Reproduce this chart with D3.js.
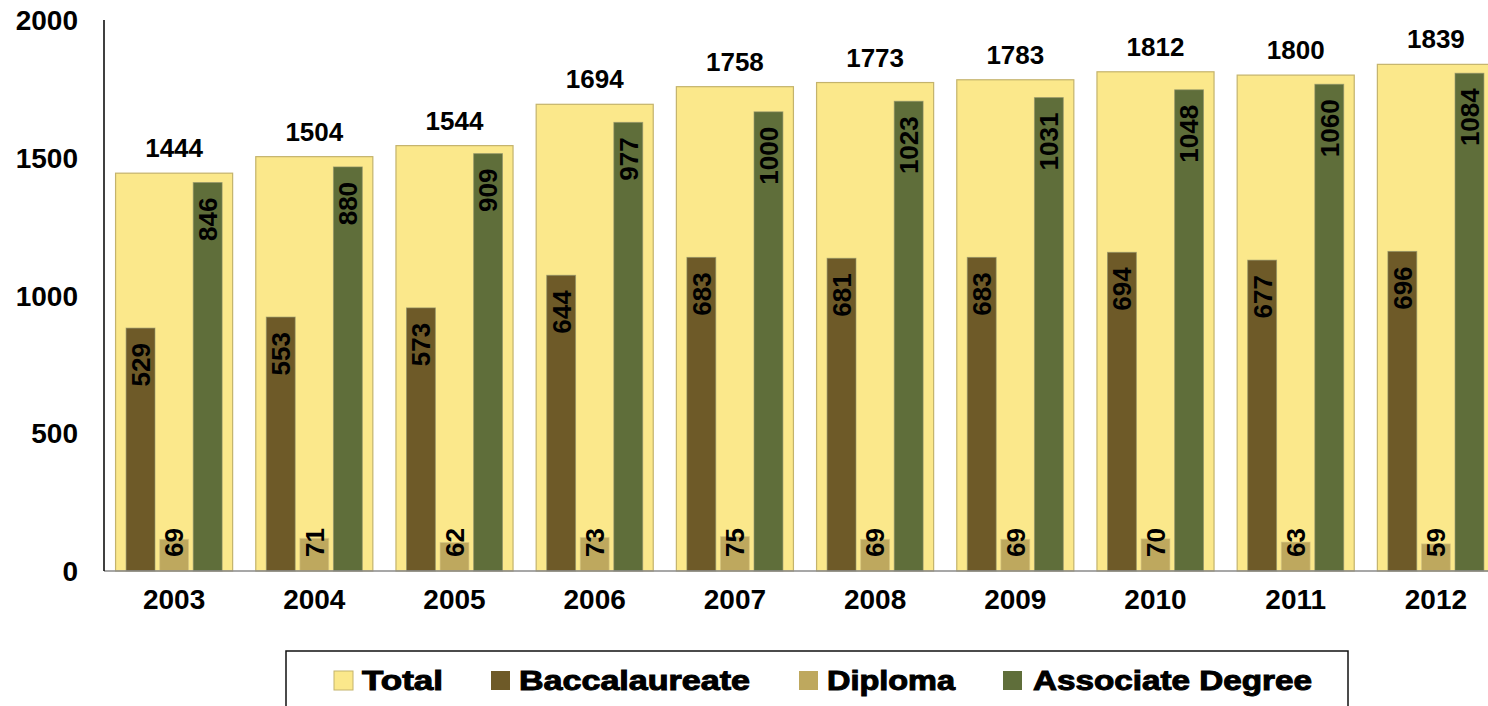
<!DOCTYPE html>
<html>
<head>
<meta charset="utf-8">
<script src="https://cdn.jsdelivr.net/npm/d3@7"></script>
<style>
  body { margin: 0; background: #fff; }
  text { font-family: "Liberation Sans", Arial, sans-serif; font-weight: bold; }
</style>
</head>
<body>
<svg id="chart"></svg>
<script>
var years = ["2003","2004","2005","2006","2007","2008","2009","2010","2011","2012"];
var total = [1444,1504,1544,1694,1758,1773,1783,1812,1800,1839];
var bacc = [529,553,573,644,683,681,683,694,677,696];
var diploma = [69,71,62,73,75,69,69,70,63,59];
var assoc = [846,880,909,977,1000,1023,1031,1048,1060,1084];
var seriesNames = ["Baccalaureate","Diploma","Associate Degree"];
var yTicks = [0,500,1000,1500,2000];

var width = 1488;
var height = 706;

var svg = d3.select("#chart")
  .attr("width", width)
  .attr("height", height);

var x = d3.scaleBand()
  .domain(years)
  .range([104, 104 + 140.2 * years.length]);

var y = d3.scaleLinear().domain([0, 2000]).range([571, 20]);
// the three detail series sit on a hidden secondary axis
var y2 = d3.scaleLinear().domain([0, 1200]).range([571, 20]);

var inner = d3.scaleBand()
  .domain(seriesNames)
  .range([-48, 48])
  .paddingInner(0.14);

var colors = {
  "Total": "#FBE88B",
  "Baccalaureate": "#6E5A28",
  "Diploma": "#BEA85E",
  "Associate Degree": "#5F6E3A"
};

var rows = years.map(function(yr, i) {
  return {year: yr, total: total[i], vals: [bacc[i], diploma[i], assoc[i]]};
});

var totalW = x.bandwidth() * 0.835;

// total bars
svg.selectAll("rect.total")
  .data(rows)
  .enter()
  .append("rect")
  .attr("class", "total")
  .attr("x", function(d) { return x(d.year) + x.bandwidth() / 2 - totalW / 2; })
  .attr("y", function(d) { return y(d.total); })
  .attr("width", totalW)
  .attr("height", function(d) { return y(0) - y(d.total); })
  .attr("fill", colors["Total"])
  .attr("stroke", "#C4B36C")
  .attr("stroke-width", 1.2);

svg.selectAll("text.totlab")
  .data(rows)
  .enter()
  .append("text")
  .attr("class", "totlab")
  .attr("x", function(d) { return x(d.year) + x.bandwidth() / 2; })
  .attr("y", function(d) { return y(d.total) - 16; })
  .attr("text-anchor", "middle")
  .attr("font-size", 26)
  .text(function(d) { return d.total; });

// detail bars
var flat = [];
rows.forEach(function(r) {
  seriesNames.forEach(function(s, j) {
    flat.push({year: r.year, series: s, value: r.vals[j]});
  });
});

svg.selectAll("rect.sub")
  .data(flat)
  .enter()
  .append("rect")
  .attr("class", "sub")
  .attr("x", function(d) { return x(d.year) + x.bandwidth() / 2 + inner(d.series); })
  .attr("y", function(d) { return y2(d.value); })
  .attr("width", inner.bandwidth())
  .attr("height", function(d) { return y2(0) - y2(d.value); })
  .attr("fill", function(d) { return colors[d.series]; })
  .attr("stroke", function(d) { return d.series == "Diploma" ? "#D6C586" : "#8C8F6A"; })
  .attr("stroke-opacity", 0.6)
  .attr("stroke-width", 1);

svg.selectAll("text.sublab")
  .data(flat)
  .enter()
  .append("text")
  .attr("class", "sublab")
  .attr("transform", function(d) {
    var cx = x(d.year) + x.bandwidth() / 2 + inner(d.series) + inner.bandwidth() / 2;
    var cy = Math.min(y2(d.value) + 15, y2(0) - 43);
    return "translate(" + cx + "," + cy + ") rotate(-90)";
  })
  .attr("dy", "0.36em")
  .attr("text-anchor", "end")
  .attr("font-size", 26)
  .text(function(d) { return d.value; });

// axes
svg.append("line")
  .attr("x1", 104).attr("x2", width)
  .attr("y1", y(0)).attr("y2", y(0))
  .attr("stroke", "#8a8a8a")
  .attr("stroke-width", 1.5);

svg.append("line")
  .attr("x1", 104).attr("x2", 104)
  .attr("y1", y(2000)).attr("y2", y(0))
  .attr("stroke", "#000")
  .attr("stroke-width", 1.5);

svg.selectAll("text.ytick")
  .data(yTicks)
  .enter()
  .append("text")
  .attr("class", "ytick")
  .attr("x", 78)
  .attr("y", function(d) { return y(d); })
  .attr("dy", "0.36em")
  .attr("text-anchor", "end")
  .attr("font-size", 28)
  .text(function(d) { return d; });

svg.selectAll("text.xtick")
  .data(years)
  .enter()
  .append("text")
  .attr("class", "xtick")
  .attr("x", function(d) { return x(d) + x.bandwidth() / 2; })
  .attr("y", 609)
  .attr("text-anchor", "middle")
  .attr("font-size", 28)
  .text(function(d) { return d; });

// legend
svg.append("rect")
  .attr("x", 286).attr("y", 651)
  .attr("width", 1062).attr("height", 80)
  .attr("fill", "none")
  .attr("stroke", "#111")
  .attr("stroke-width", 1.5);

var legendItems = [
  {name: "Total", sx: 334, tx: 362, tw: 81},
  {name: "Baccalaureate", sx: 491, tx: 519, tw: 231},
  {name: "Diploma", sx: 799, tx: 827, tw: 128},
  {name: "Associate Degree", sx: 1003, tx: 1033, tw: 279}
];

var lg = svg.selectAll("g.leg")
  .data(legendItems)
  .enter()
  .append("g")
  .attr("class", "leg");

lg.append("rect")
  .attr("x", function(d) { return d.sx; })
  .attr("y", 671)
  .attr("width", 19)
  .attr("height", 19)
  .attr("fill", function(d) { return colors[d.name]; })
  .attr("stroke", function(d) { return d.name == "Total" ? "#C4B36C" : "none"; })
  .attr("stroke-width", 1);

lg.append("text")
  .attr("x", function(d) { return d.tx; })
  .attr("y", 690)
  .attr("font-size", 27)
  .attr("textLength", function(d) { return d.tw; })
  .attr("lengthAdjust", "spacingAndGlyphs")
  .attr("stroke", "#000")
  .attr("stroke-width", 1)
  .text(function(d) { return d.name; });
</script>
</body>
</html>
